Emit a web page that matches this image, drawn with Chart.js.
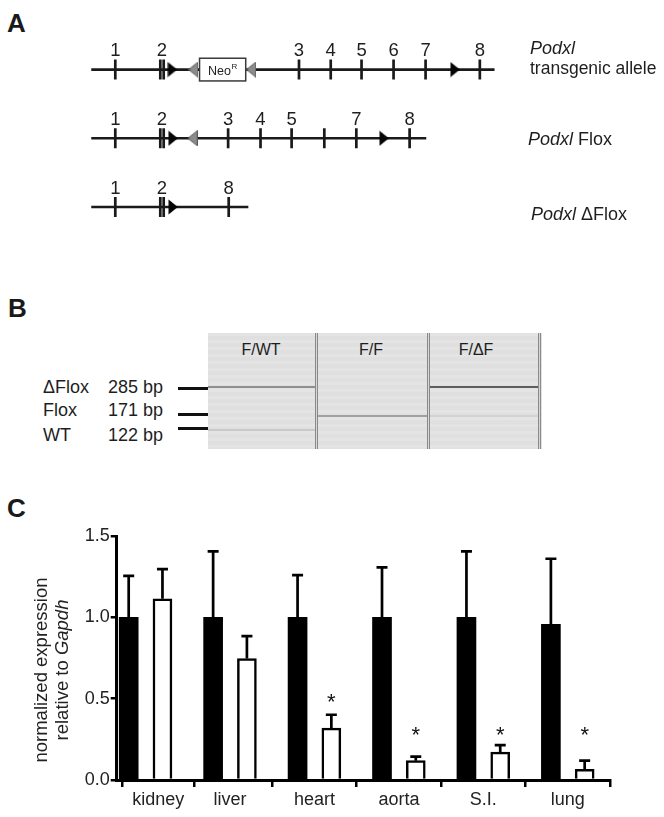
<!DOCTYPE html>
<html><head><meta charset="utf-8">
<script src="https://cdn.jsdelivr.net/npm/chart.js@4.4.1/dist/chart.umd.min.js"></script>
<style>
html,body{margin:0;padding:0;background:#fff;}
#page{position:relative;width:664px;height:817px;overflow:hidden;font-family:"Liberation Sans",Arial,Helvetica,sans-serif;color:#1e1e1e;}
.t{position:absolute;white-space:nowrap;line-height:1;}
.ctr{transform:translateX(-50%);}
.letter{font-weight:bold;font-size:26px;color:#1a1a1a;}
.lbl{font-size:18px;}
.box{position:absolute;}
#gel{position:absolute;left:208px;top:333px;width:334px;height:116px;background:#e2e2e2;
 background-image:repeating-linear-gradient(180deg,rgba(255,255,255,0.07) 0px,rgba(255,255,255,0.07) 3px,rgba(0,0,0,0.012) 3px,rgba(0,0,0,0.012) 7px);}
.sep{position:absolute;top:0;height:116px;width:1px;border-left:1px solid #8a8a8a;border-right:1px solid #8a8a8a;background:#d6d6d6;}
.band{position:absolute;height:2px;}
.mark{position:absolute;left:178px;width:30px;background:#111;}
</style></head>
<body><div id="page">

<!-- Panel A -->
<div class="t letter" style="left:7px;top:9.7px;">A</div>
<div class="box" style="left:0;top:0;width:664px;height:250px;"><canvas id="chartA"></canvas></div>
<div class="t lbl" style="left:530px;top:39.1px;"><i>Podxl</i></div>
<div class="t" style="left:530px;top:60.2px;font-size:17.5px;">transgenic allele</div>
<div class="t lbl" style="left:528px;top:129.8px;"><i>Podxl</i> Flox</div>
<div class="t lbl" style="left:531px;top:204.8px;"><i>Podxl</i> ΔFlox</div>

<!-- Panel B -->
<div class="t letter" style="left:8px;top:294.7px;">B</div>
<div class="t lbl" style="left:43px;top:377.5px;">ΔFlox</div>
<div class="t lbl" style="left:108px;top:377.5px;">285 bp</div>
<div class="t lbl" style="left:43px;top:400.8px;">Flox</div>
<div class="t lbl" style="left:108px;top:400.8px;">171 bp</div>
<div class="t lbl" style="left:43px;top:425.5px;">WT</div>
<div class="t lbl" style="left:108px;top:425.5px;">122 bp</div>
<div class="mark" style="top:387px;height:2.5px;"></div>
<div class="mark" style="top:412.5px;height:3px;"></div>
<div class="mark" style="top:427.2px;height:3px;"></div>
<div id="gel">
  <div class="sep" style="left:107px;"></div>
  <div class="sep" style="left:219px;"></div>
  <div class="sep" style="left:330px;"></div>
  <div class="band" style="left:0;width:107px;top:52.7px;background:#8e8e8e;"></div>
  <div class="band" style="left:0;width:107px;top:95.7px;background:#c9c9c9;"></div>
  <div class="band" style="left:110px;width:109px;top:82.3px;background:#a0a0a0;"></div>
  <div class="band" style="left:222px;width:108px;top:53.3px;background:#5e5e5e;"></div>
  <div class="band" style="left:222px;width:108px;top:81.7px;background:#d2d2d2;"></div>
</div>
<div class="t ctr" style="left:261px;top:341.5px;font-size:16px;">F/WT</div>
<div class="t ctr" style="left:371px;top:341.5px;font-size:16px;">F/F</div>
<div class="t ctr" style="left:476px;top:341.5px;font-size:16px;">F/ΔF</div>

<!-- Panel C -->
<div class="t letter" style="left:7px;top:494.7px;">C</div>
<div class="box" style="left:0;top:500px;width:664px;height:317px;"><canvas id="chartC"></canvas></div>

</div>
<script>
// ---------- Panel A data (relative positions along the allele, 0 = start of drawn locus) ----------
const tgExons      = [5.96, 17.12, 17.96, 51.51, 59.38, 67.02, 74.96, 82.90, 96.35];
const tgExonLabels = ['1', '2', '', '3', '4', '5', '6', '7', '8'];
const tgLoxP       = [20.1, 90.2];
const tgFRT        = [25.35, 39.7];
const tgNeo        = [26.85, 38.3];
const tgEnd        = 100;

const flExons      = [5.96, 17.12, 17.96, 33.94, 41.97, 49.68, 57.79, 65.73, 78.94];
const flExonLabels = ['1', '2', '', '3', '4', '5', '', '7', '8'];
const flLoxP       = [20.27, 72.6];
const flFRT        = [25.16];
const flEnd        = 83.07;

const dfExons      = [5.96, 17.12, 17.96, 34.08];
const dfExonLabels = ['1', '2', '', '8'];
const dfLoxP       = [20.27];
const dfFRT        = [];
const dfEnd        = 38.95;

// ---------- Panel C data ----------
const tissues   = ['kidney', 'liver', 'heart', 'aorta', 'S.I.', 'lung'];
const ctrlMean  = [1.00, 1.00, 1.00, 1.00, 1.00, 0.957];
const ctrlErr   = [0.255, 0.405, 0.259, 0.307, 0.405, 0.403];
const koMean    = [1.114, 0.747, 0.319, 0.119, 0.171, 0.066];
const koErr     = [0.182, 0.138, 0.082, 0.025, 0.043, 0.053];
const koSig     = ['', '', '*', '*', '*', '*'];
const koSigAt   = [null, null, 0.514, 0.309, 0.309, 0.309];
const yTicks    = [0, 0.5, 1.0, 1.5];
const xTickAt   = [0.15, 1, 2, 3, 4, 5];

const FONT = '"Liberation Sans", Arial, Helvetica, sans-serif';
Chart.defaults.font.family = FONT;
Chart.defaults.color = '#222';

// ---------- Panel A chart ----------
function triCanvas(dir, fill, stroke) {
  const c = document.createElement('canvas'); c.width = 10; c.height = 16;
  const g = c.getContext('2d');
  g.beginPath();
  if (dir > 0) { g.moveTo(0.5, 0.5); g.lineTo(9.8, 8); g.lineTo(0.5, 15.5); }
  else { g.moveTo(9.5, 0.5); g.lineTo(0.2, 8); g.lineTo(9.5, 15.5); }
  g.closePath(); g.fillStyle = fill; g.fill();
  if (stroke) { g.strokeStyle = stroke; g.lineWidth = 1; g.stroke(); }
  return c;
}
const loxImg = triCanvas(1, '#050505', null);
const frtImg = triCanvas(-1, '#8c8c8c', '#5a5a5a');

const rowsA = [
  { exons: tgExons, labels: tgExonLabels, lox: tgLoxP, frt: tgFRT, end: tgEnd },
  { exons: flExons, labels: flExonLabels, lox: flLoxP, frt: flFRT, end: flEnd },
  { exons: dfExons, labels: dfExonLabels, lox: dfLoxP, frt: dfFRT, end: dfEnd }
];
const aDatasets = [];
rowsA.forEach((r, ri) => {
  aDatasets.push({ data: [{ x: 0, y: ri }, { x: r.end, y: ri }], showLine: true,
    borderColor: '#1a1a1a', borderWidth: 2.7, pointRadius: 0, order: 5 });
  aDatasets.push({ data: r.exons.map(v => ({ x: v, y: ri })), pointStyle: 'line', rotation: 90,
    pointRadius: 10, pointBorderWidth: 2.7, pointBorderColor: '#1a1a1a', order: 1 });
  if (r.lox.length) aDatasets.push({ data: r.lox.map(v => ({ x: v, y: ri })), pointStyle: loxImg, pointRadius: 8, order: 1 });
  if (r.frt.length) aDatasets.push({ data: r.frt.map(v => ({ x: v, y: ri })), pointStyle: frtImg, pointRadius: 8, order: 1 });
});

const alleleDecor = {
  id: 'alleleDecor',
  afterDatasetsDraw(chart) {
    const { ctx, scales: { x, y } } = chart;
    ctx.save();
    // Neo cassette box
    const x1 = x.getPixelForValue(tgNeo[0]), x2 = x.getPixelForValue(tgNeo[1]);
    const yc = y.getPixelForValue(0);
    ctx.fillStyle = '#fff'; ctx.strokeStyle = '#3a3a3a'; ctx.lineWidth = 1.5;
    ctx.fillRect(x1, yc - 11.3, x2 - x1, 22.7);
    ctx.strokeRect(x1, yc - 11.3, x2 - x1, 22.7);
    ctx.fillStyle = '#222'; ctx.textBaseline = 'alphabetic'; ctx.textAlign = 'left';
    ctx.font = '12.5px ' + FONT;
    const wNeo = ctx.measureText('Neo').width;
    ctx.font = '8px ' + FONT;
    const wR = ctx.measureText('R').width;
    const sx = (x1 + x2) / 2 - (wNeo + wR + 0.5) / 2;
    ctx.font = '12.5px ' + FONT; ctx.fillText('Neo', sx, yc + 5.3);
    ctx.font = '8px ' + FONT; ctx.fillText('R', sx + wNeo + 0.5, yc - 0.4);
    // exon numbers
    ctx.font = '18.5px ' + FONT; ctx.textAlign = 'center'; ctx.fillStyle = '#1e1e1e';
    rowsA.forEach((r, ri) => {
      const py = y.getPixelForValue(ri) - 13.3;
      r.labels.forEach((lab, i) => {
        if (!lab) return;
        let v = r.exons[i];
        if (r.labels[i + 1] === '' && r.exons[i + 1] - v < 1) v = (v + r.exons[i + 1]) / 2;
        ctx.fillText(lab, x.getPixelForValue(v), py);
      });
    });
    ctx.restore();
  }
};

new Chart(document.getElementById('chartA'), {
  type: 'scatter',
  data: { datasets: aDatasets },
  options: {
    responsive: true, maintainAspectRatio: false, animation: false, events: [],
    layout: { padding: 0 },
    plugins: { legend: { display: false }, tooltip: { enabled: false } },
    scales: {
      x: { type: 'linear', display: false, min: -19.48, max: 138.87 },
      y: { type: 'linear', display: false, min: -0.827, max: 2.441, reverse: true }
    }
  },
  plugins: [alleleDecor]
});

// ---------- Panel C chart ----------
const errAndStars = {
  id: 'errAndStars',
  afterDatasetsDraw(chart) {
    const { ctx, scales: { y } } = chart;
    const sets = [[ctrlMean, ctrlErr], [koMean, koErr]];
    ctx.save();
    ctx.strokeStyle = '#000'; ctx.lineWidth = 2.7; ctx.lineCap = 'butt';
    sets.forEach((s, di) => {
      const meta = chart.getDatasetMeta(di);
      meta.data.forEach((bar, i) => {
        const yTop = y.getPixelForValue(s[0][i] + s[1][i]);
        const yBar = y.getPixelForValue(s[0][i]);
        ctx.beginPath();
        ctx.moveTo(bar.x, yBar); ctx.lineTo(bar.x, yTop);
        ctx.moveTo(bar.x - 5.5, yTop); ctx.lineTo(bar.x + 5.5, yTop);
        ctx.stroke();
      });
    });
    const koMeta = chart.getDatasetMeta(1);
    ctx.fillStyle = '#111'; ctx.font = '22px ' + FONT; ctx.textAlign = 'center'; ctx.textBaseline = 'alphabetic';
    koSig.forEach((s, i) => {
      if (!s) return;
      const py = y.getPixelForValue(koSigAt[i]);
      ctx.fillText(s, koMeta.data[i].x, py + 12.6);
    });
    ctx.restore();
  }
};

const yTitle = {
  id: 'yTitle',
  afterDraw(chart) {
    const ctx = chart.ctx;
    const cy = chart.chartArea.top + 134;
    const lines = [
      { x: 46.5, segs: [['normalized expression', '']] },
      { x: 68, segs: [['relative to ', ''], ['Gapdh', 'italic ']] }
    ];
    ctx.save();
    ctx.fillStyle = '#222'; ctx.textBaseline = 'alphabetic'; ctx.textAlign = 'left';
    lines.forEach(l => {
      let total = 0;
      l.segs.forEach(s => { ctx.font = s[1] + '18.5px ' + FONT; total += ctx.measureText(s[0]).width; });
      ctx.save();
      ctx.translate(l.x, cy); ctx.rotate(-Math.PI / 2);
      let px = -total / 2;
      l.segs.forEach(s => { ctx.font = s[1] + '18.5px ' + FONT; ctx.fillText(s[0], px, 0); px += ctx.measureText(s[0]).width; });
      ctx.restore();
    });
    ctx.restore();
  }
};

new Chart(document.getElementById('chartC'), {
  type: 'bar',
  data: {
    datasets: [
      { label: 'control', data: tissues.map((t, i) => ({ x: i - 0.2, y: ctrlMean[i] })),
        backgroundColor: '#000', borderWidth: 0, barThickness: 19, grouped: false },
      { label: 'Podxl ΔFlox', data: tissues.map((t, i) => ({ x: i + 0.2, y: koMean[i] })),
        backgroundColor: '#fff', borderColor: '#000', borderWidth: 2.5, borderSkipped: 'start', barThickness: 19, grouped: false }
    ]
  },
  options: {
    responsive: true, maintainAspectRatio: false, animation: false, events: [],
    layout: { padding: { top: 36, right: 54, left: 0, bottom: 0 } },
    plugins: { legend: { display: false }, tooltip: { enabled: false } },
    scales: {
      x: {
        type: 'linear', min: -0.342, max: 5.5, bounds: 'data', offset: false,
        afterBuildTicks: s => { s.ticks = xTickAt.map(v => ({ value: v })); },
        afterFit: s => { s.height = 37; },
        ticks: { callback: (v, i) => tissues[i], font: { size: 18 }, color: '#222', padding: 2, maxRotation: 0, autoSkip: false },
        grid: { display: true, drawOnChartArea: false, drawTicks: true, tickLength: 7, lineWidth: 2.5, color: '#000' },
        border: { display: true, width: 3, color: '#000' }
      },
      y: {
        type: 'linear', min: 0, max: 1.5,
        afterBuildTicks: s => { s.ticks = yTicks.map(v => ({ value: v })); },
        afterFit: s => { s.width = 116.7; },
        ticks: { callback: v => Number(v).toFixed(1), font: { size: 18 }, color: '#222', padding: 1 },
        grid: { display: true, drawOnChartArea: false, drawTicks: true, tickLength: 6, lineWidth: 2.5, color: '#000' },
        border: { display: true, width: 3, color: '#000' }
      }
    }
  },
  plugins: [errAndStars, yTitle]
});
</script>
</body></html>
